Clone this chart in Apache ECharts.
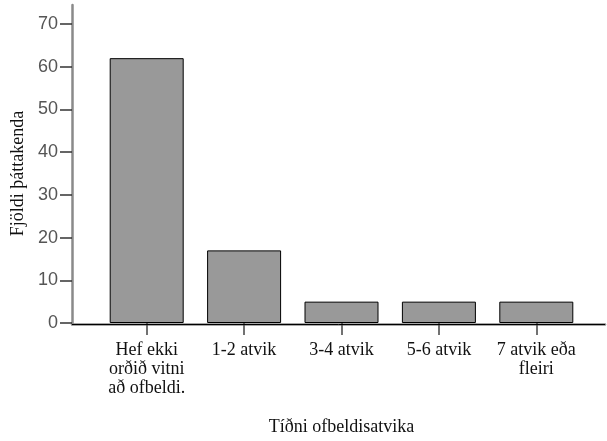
<!DOCTYPE html>
<html>
<head>
<meta charset="utf-8">
<script src="https://cdn.jsdelivr.net/npm/echarts@6/dist/echarts.min.js"></script>
<style>html,body{margin:0;padding:0;background:#fff}#c{width:607px;height:441px}</style>
</head>
<body>
<div id="c"></div>
<script>
var categories = ['Hef ekki\norðið vitni\nað ofbeldi.', '1-2 atvik', '3-4 atvik', '5-6 atvik', '7 atvik eða\nfleiri'];
var counts = [62, 17, 5, 5, 5];
var yTicks = [0, 10, 20, 30, 40, 50, 60, 70];
var xTitle = 'Tíðni ofbeldisatvika';
var yTitle = 'Fjöldi þáttakenda';

var serif = 'Liberation Serif';
var chart = echarts.init(document.getElementById('c'), null, {renderer: 'canvas'});
chart.setOption({
  animation: false,
  backgroundColor: '#fff',
  textStyle: {fontFamily: serif},
  grid: [
    {left: 98, right: 22, top: 24, bottom: 117},
    {left: 72, right: 2, top: 5, bottom: 117}
  ],
  xAxis: [
    {
      type: 'category', gridIndex: 0, data: categories,
      axisLine: {show: false},
      axisTick: {show: true, interval: 0, alignWithLabel: true, length: 12, lineStyle: {color: '#444', width: 1.5}},
      axisLabel: {interval: 0, hideOverlap: false, margin: 18, color: '#111', fontFamily: serif, fontSize: 18, lineHeight: 19},
      name: xTitle, nameLocation: 'middle', nameGap: 95,
      nameTextStyle: {color: '#111', fontFamily: serif, fontSize: 18}
    },
    {
      type: 'value', gridIndex: 1, min: 0, max: 1, offset: 2.5,
      axisLine: {show: true, lineStyle: {color: '#8a8a8a', width: 2.5}},
      axisTick: {show: false}, axisLabel: {show: false}, splitLine: {show: false}
    }
  ],
  yAxis: [
    {
      type: 'value', gridIndex: 0, min: yTicks[0], max: yTicks[yTicks.length - 1], interval: 10, offset: 26,
      axisLine: {show: false},
      axisTick: {show: true, length: 12, lineStyle: {color: '#333', width: 1.5}},
      axisLabel: {margin: 14, color: '#555', fontFamily: 'Liberation Sans', fontSize: 18},
      splitLine: {show: false},
      name: yTitle, nameLocation: 'middle', nameGap: 44, nameRotate: 90,
      nameTextStyle: {color: '#111', fontFamily: serif, fontSize: 18}
    },
    {
      type: 'value', gridIndex: 1, min: 0, max: 74.4,
      axisLine: {show: true, lineStyle: {color: '#8a8a8a', width: 2.5}},
      axisTick: {show: false}, axisLabel: {show: false}, splitLine: {show: false}
    }
  ],
  series: [
    {
      type: 'bar', xAxisIndex: 0, yAxisIndex: 0, data: counts, barWidth: 74,
      itemStyle: {color: '#999999', borderColor: '#000', borderWidth: 1}
    },
    {
      type: 'line', xAxisIndex: 1, yAxisIndex: 1, data: [[0, 0]], showSymbol: false, symbolSize: 0,
      lineStyle: {opacity: 0}, silent: true,
      markLine: {
        silent: true, symbol: 'none', label: {show: false},
        lineStyle: {color: '#000', width: 1, type: 'solid'},
        data: [{yAxis: 0}]
      }
    }
  ]
});
</script>
</body>
</html>
